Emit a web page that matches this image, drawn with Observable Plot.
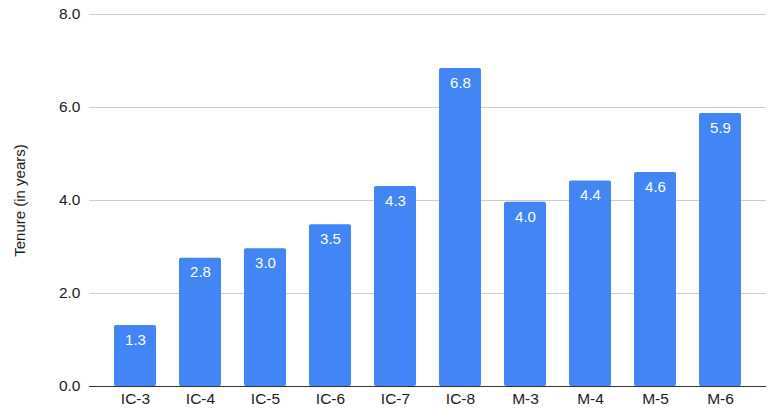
<!DOCTYPE html>
<html>
<head>
<meta charset="utf-8">
<script src="https://cdn.jsdelivr.net/npm/d3@7"></script>
<script src="https://cdn.jsdelivr.net/npm/@observablehq/plot@0.6"></script>
<style>
  html, body { margin: 0; padding: 0; background: #fff; }
  #chart svg { font-family: "Liberation Sans", Arial, Helvetica, sans-serif; display: block; }
</style>
</head>
<body>
<div id="chart"></div>
<script>
const levels = ["IC-3", "IC-4", "IC-5", "IC-6", "IC-7", "IC-8", "M-3", "M-4", "M-5", "M-6"];
const tenure = [1.31, 2.76, 2.96, 3.48, 4.3, 6.84, 3.96, 4.42, 4.6, 5.87];
const yTicks = [0, 2, 4, 6, 8];
const yLabel = "Tenure (in years)";

const data = levels.map((level, i) => ({ level, tenure: tenure[i] }));

const chart = Plot.plot({
  width: 772,
  height: 412,
  marginTop: 14,
  marginBottom: 26,
  marginLeft: 89,
  marginRight: 6,
  style: { fontSize: "15px", color: "#1a1a1a", background: "#fff" },
  x: {
    domain: levels,
    paddingInner: 0.36,
    paddingOuter: 0,
    insetLeft: 23,
    insetRight: 23.5,
    label: null
  },
  y: {
    domain: [0, 8],
    ticks: yTicks,
    label: null
  },
  marks: [
    Plot.ruleY(yTicks.filter(d => d > 0), { stroke: "#cccccc", strokeWidth: 1 }),
    Plot.axisY({
      ticks: yTicks,
      tickSize: 0,
      tickPadding: 9,
      tickFormat: d => d.toFixed(1),
      fontSize: 15.5,
      fill: "#1a1a1a",
      label: null
    }),
    Plot.axisX({
      tickSize: 0,
      tickPadding: 6,
      fontSize: 15.5,
      fill: "#1a1a1a",
      label: null
    }),
    Plot.barY(data, { x: "level", y: "tenure", fill: "#4285F4", rx: 2 }),
    Plot.ruleY([0], { stroke: "#333", strokeWidth: 1 }),
    Plot.text(data, {
      x: "level",
      y: "tenure",
      text: d => d.tenure.toFixed(1),
      fill: "#fff",
      dy: 14.5,
      fontSize: 15,
      lineAnchor: "middle"
    }),
    Plot.text([yLabel], {
      frameAnchor: "left",
      textAnchor: "middle",
      lineAnchor: "middle",
      dx: -69,
      rotate: -90,
      text: d => d,
      fontSize: 15,
      fill: "#1a1a1a"
    })
  ]
});

document.getElementById("chart").appendChild(chart);
</script>
</body>
</html>
